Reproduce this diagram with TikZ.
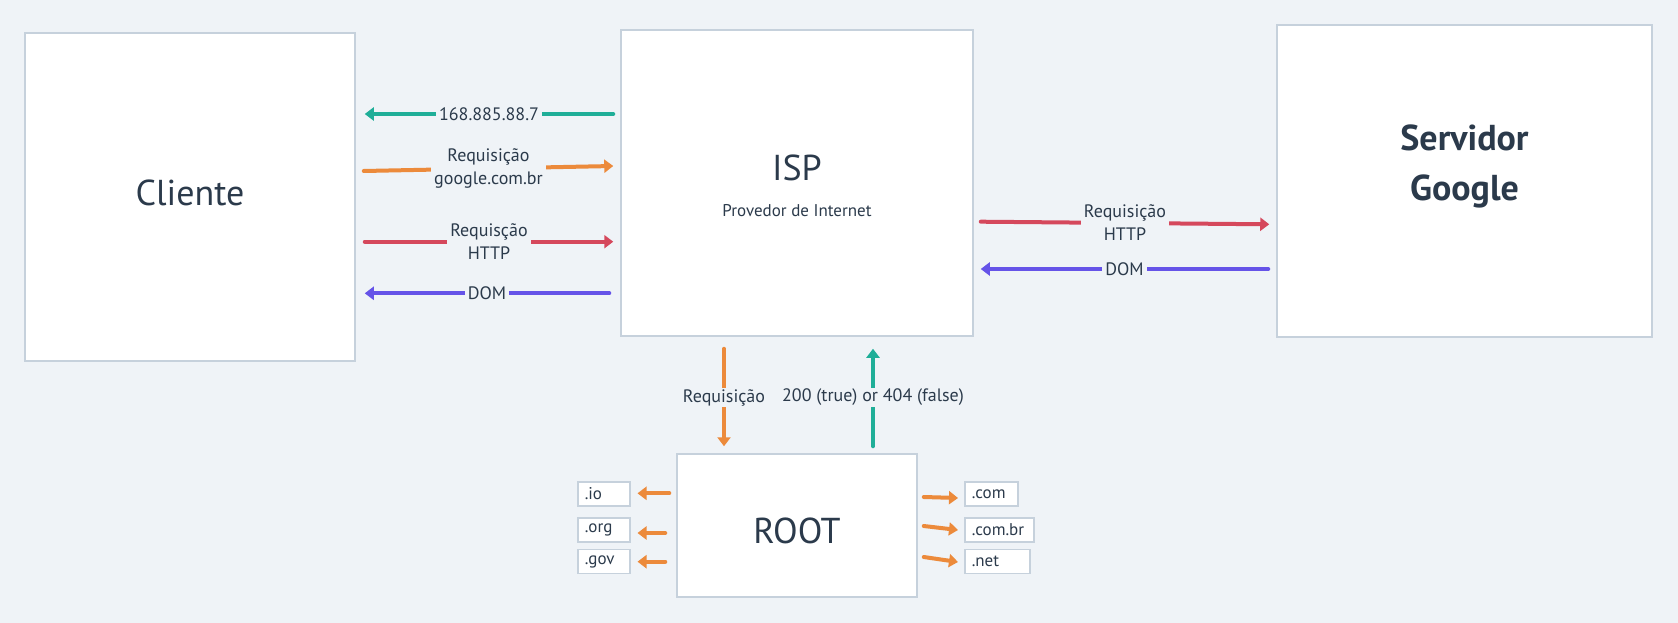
\documentclass[tikz,border=0pt]{standalone}
\usepackage{fontspec}
\setmainfont{PT Sans}
\usetikzlibrary{arrows.meta}

\definecolor{bgcol}{HTML}{EFF3F7}
\definecolor{boxline}{HTML}{C6D1DC}
\definecolor{txt}{HTML}{2B3A4B}
\definecolor{tealc}{HTML}{1FAE98}
\definecolor{orangec}{HTML}{EC8A3B}
\definecolor{redc}{HTML}{D5485C}
\definecolor{purplec}{HTML}{6553E8}

\tikzset{
  box/.style={draw=boxline, fill=white, line width=1.5pt, inner sep=0pt},
  big/.style={text=txt, font=\fontsize{36}{40}\selectfont},
  tld/.style={draw=boxline, fill=white, line width=1.5pt, inner xsep=7pt, inner ysep=0pt,
    minimum height=24pt, align=left, anchor=west, text=txt, font=\fontsize{17}{20}\selectfont},
  lbl/.style={fill=bgcol, inner xsep=3pt, inner ysep=1pt, align=center, text=txt,
    font=\fontsize{18}{23}\selectfont},
  flow/.style={line width=4pt, line cap=round, -{Triangle[length=9pt,width=13pt]}},
}

\begin{document}
\begin{tikzpicture}[x=1pt, y=-1pt]

  \fill[bgcol] (0,0) rectangle (1678,623);
  \useasboundingbox (0,0) rectangle (1678,623);

  % boxes
  \node[box, minimum width=330pt, minimum height=328pt] (cliente) at (190,197) {};
  \node[box, minimum width=352pt, minimum height=306pt] (isp) at (797,183) {};
  \node[box, minimum width=375pt, minimum height=312pt] (servidor) at (1464.5,181) {};
  \node[box, minimum width=240pt, minimum height=143pt] (root) at (797,525.5) {};

  \node[big] (clientetxt) at ([yshift=4pt]cliente.center) {Cliente};
  \node[big] (isptxt) at ([yshift=15pt]isp.center) {ISP};
  \node[text=txt, font=\fontsize{17}{20}\selectfont] (ispsub) at ([yshift=-28pt]isp.center) {Provedor de Internet};
  \node[text=txt, align=center, font=\fontsize{36}{50}\selectfont\bfseries] (servidortxt)
    at ([yshift=15pt]servidor.center) {Servidor\\Google};
  \node[big] (roottxt) at ([yshift=-5pt]root.center) {ROOT};

  % top level domains
  \node[tld, text width=38pt] (io) at (577,494) {.io};
  \node[tld, text width=38pt] (org) at (577,530) {.org};
  \node[tld, text width=38pt] (gov) at (577,561.5) {.gov};
  \node[tld, text width=39pt] (com) at (964,494) {.com};
  \node[tld, text width=55pt] (combr) at (964,530) {.com.br};
  \node[tld, text width=51pt] (net) at (964,561.5) {.net};

  % cliente <-> isp
  \draw[flow, tealc] ([xshift=-7pt]isp.west |- 0,114) -- node[lbl] {168.885.88.7} ([xshift=9pt]cliente.east |- 0,114);
  \draw[flow, orangec] ([xshift=8pt]cliente.east |- 0,171) -- node[lbl] {Requisição\\google.com.br} ([xshift=-7pt]isp.west |- 0,166);
  \draw[flow, redc] ([xshift=9pt]cliente.east |- 0,241.7) -- node[lbl] {Requisção\\HTTP} ([xshift=-7pt]isp.west |- 0,241.7);
  \draw[flow, purplec] ([xshift=-11pt]isp.west |- 0,293.3) -- node[lbl] {DOM} ([xshift=9pt]cliente.east |- 0,293.3);

  % isp <-> servidor
  \draw[flow, redc] ([xshift=7pt]isp.east |- 0,221.7) -- node[lbl] {Requisição\\HTTP} ([xshift=-7pt]servidor.west |- 0,224.3);
  \draw[flow, purplec] ([xshift=-8pt]servidor.west |- 0,269) -- node[lbl] {DOM} ([xshift=7pt]isp.east |- 0,269);

  % isp <-> root
  \draw[flow, orangec] ([yshift=-12pt]isp.south -| 724,0) -- node[lbl] {Requisição} ([yshift=7pt]root.north -| 724,0);
  \draw[flow, tealc] ([yshift=7pt]root.north -| 873,0) -- node[lbl] {200 (true) or 404 (false)} ([yshift=-12pt]isp.south -| 873,0);

  % root -> tld
  \draw[flow, orangec] ([xshift=-7pt]root.west |- 0,493.3) -- ([xshift=7pt]io.east |- 0,493.3);
  \draw[flow, orangec] ([xshift=-11pt]root.west |- 0,533) -- ([xshift=7pt]org.east |- 0,533);
  \draw[flow, orangec] ([xshift=-11pt]root.west |- 0,561.7) -- ([xshift=7pt]gov.east |- 0,561.7);
  \draw[flow, orangec] ([xshift=6pt]root.east |- 0,497) -- ([xshift=-6pt]com.west |- 0,498);
  \draw[flow, orangec] ([xshift=6pt]root.east |- 0,526) -- ([xshift=-6pt]combr.west |- 0,530);
  \draw[flow, orangec] ([xshift=6pt]root.east |- 0,557) -- ([xshift=-6pt]net.west |- 0,562);

\end{tikzpicture}
\end{document}
